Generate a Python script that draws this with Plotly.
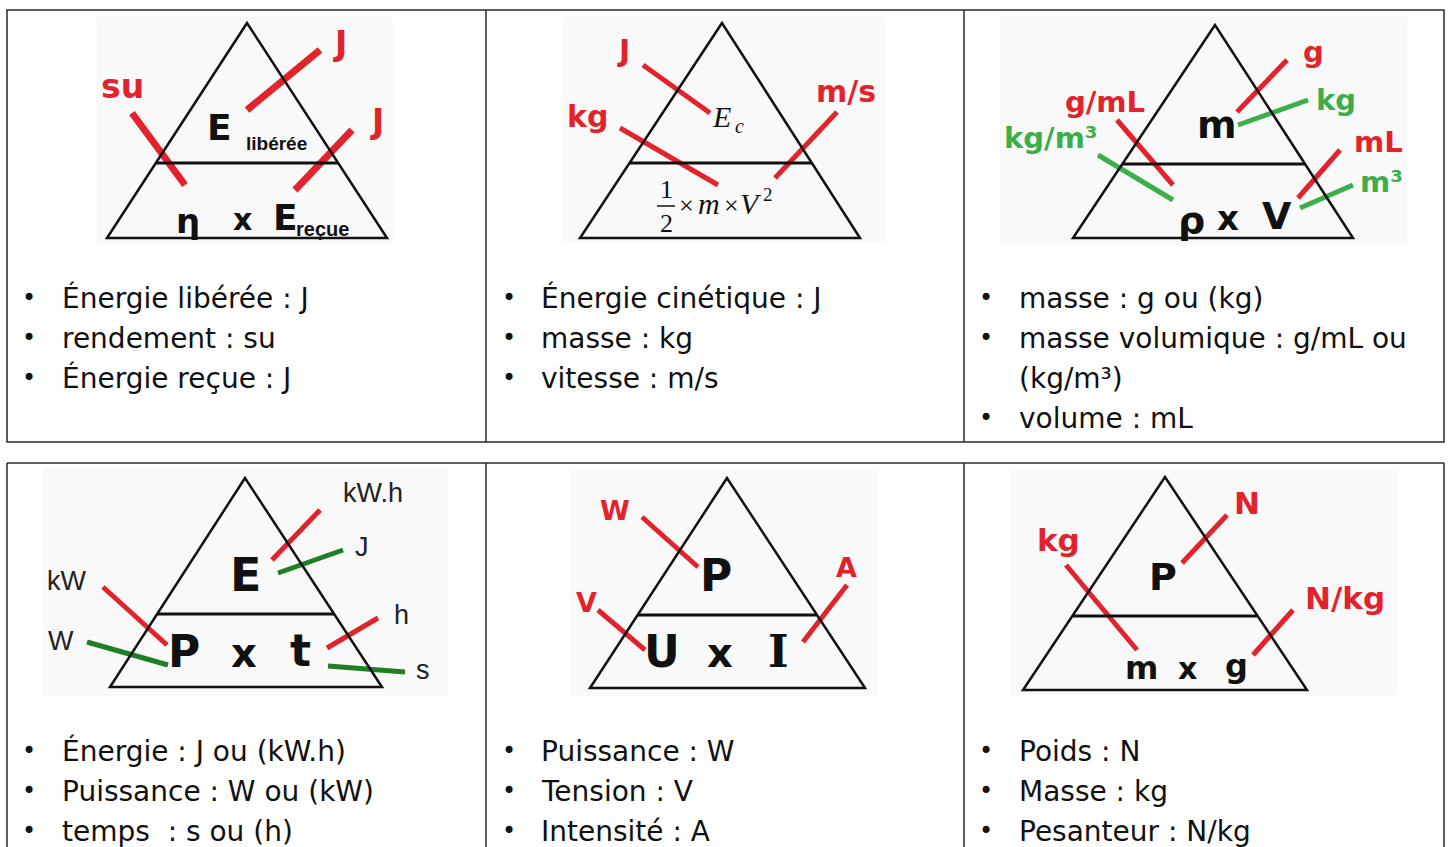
import plotly.graph_objects as go

W, H = 1451, 847
RED = "#e3232b"
GREEN = "#3cae4a"
DKGREEN = "#1f7f23"
BLACK = "#111111"

# ---------------- content ----------------
# bullet lists, one per cell (an item can wrap on a second line)
bullets_rendement = [["Énergie libérée : J"], ["rendement : su"], ["Énergie reçue : J"]]
bullets_cinetique = [["Énergie cinétique : J"], ["masse : kg"], ["vitesse : m/s"]]
bullets_masse_vol = [["masse : g ou (kg)"], ["masse volumique : g/mL ou", "(kg/m³)"], ["volume : mL"]]
bullets_energie = [["Énergie : J ou (kW.h)"], ["Puissance : W ou (kW)"], ["temps  : s ou (h)"]]
bullets_puissance = [["Puissance : W"], ["Tension : V"], ["Intensité : A"]]
bullets_poids = [["Poids : N"], ["Masse : kg"], ["Pesanteur : N/kg"]]

# unit labels attached to each triangle
units_rendement = ["su", "J", "J"]
units_cinetique = ["J", "kg", "m/s"]
units_masse_vol = ["g", "kg", "g/mL", "kg/m³", "mL", "m³"]
units_energie = ["kW.h", "J", "kW", "W", "h", "s"]
units_puissance = ["W", "V", "A"]
units_poids = ["N", "kg", "N/kg"]

colors_rendement = [RED, RED, RED]
colors_cinetique = [RED, RED, RED]
colors_masse_vol = [RED, GREEN, RED, GREEN, RED, GREEN]
colors_energie = [RED, DKGREEN, RED, DKGREEN, RED, DKGREEN]
colors_puissance = [RED, RED, RED]
colors_poids = [RED, RED, RED]

# ---------------- layout of the page (pixels) ----------------
cells = [
    dict(bullets=bullets_rendement, units=units_rendement, colors=colors_rendement,
         box=(97, 17, 393, 244), tri=(247, 23, 107, 387, 238, 163), lw=7,
         seg=[(132, 113, 185, 185), (247, 110, 320, 50), (295, 190, 352, 130)],
         lab=[(122, 86), (340, 43), (377, 121)], usize=33, ubold=True,
         bx=20, tx=60, ys=[298, 338, 378]),
    dict(bullets=bullets_cinetique, units=units_cinetique, colors=colors_cinetique,
         box=(563, 17, 885, 242), tri=(722, 23, 580, 860, 238, 163), lw=5,
         seg=[(643, 65, 710, 113), (620, 128, 718, 185), (775, 178, 837, 112)],
         lab=[(623, 50), (587, 116), (846, 91)], usize=30, ubold=True,
         bx=500, tx=539, ys=[298, 338, 378]),
    dict(bullets=bullets_masse_vol, units=units_masse_vol, colors=colors_masse_vol,
         box=(1000, 17, 1407, 245), tri=(1215, 25, 1073, 1353, 238, 164), lw=5,
         seg=[(1237, 112, 1287, 60), (1238, 125, 1308, 100), (1117, 120, 1173, 185),
              (1098, 155, 1173, 200), (1298, 198, 1340, 150), (1300, 208, 1353, 185)],
         lab=[(1313, 52), (1336, 100), (1105, 102), (1051, 138), (1378, 142), (1381, 182)],
         usize=29, ubold=True,
         bx=977, tx=1017, ys=[298, 338, 378, 418]),
    dict(bullets=bullets_energie, units=units_energie, colors=colors_energie,
         box=(43, 468, 448, 697), tri=(245, 478, 110, 382, 687, 614), lw=5,
         seg=[(272, 560, 320, 510), (278, 573, 343, 550), (103, 587, 167, 645),
              (87, 642, 168, 665), (327, 648, 378, 618), (328, 666, 405, 672)],
         lab=[(373, 493), (362, 547), (67, 581), (61, 641), (401, 615), (423, 670)],
         usize=27, ubold=False,
         bx=20, tx=60, ys=[751, 791, 831]),
    dict(bullets=bullets_puissance, units=units_puissance, colors=colors_puissance,
         box=(570, 470, 877, 697), tri=(727, 478, 590, 865, 688, 615), lw=5,
         seg=[(642, 517, 698, 567), (598, 610, 645, 650), (803, 642, 847, 585)],
         lab=[(615, 510), (586, 602), (846, 567)], usize=27, ubold=True,
         bx=500, tx=539, ys=[751, 791, 831]),
    dict(bullets=bullets_poids, units=units_poids, colors=colors_poids,
         box=(1010, 470, 1397, 695), tri=(1165, 477, 1023, 1307, 690, 616), lw=5,
         seg=[(1182, 563, 1227, 515), (1066, 565, 1137, 650), (1253, 655, 1293, 610)],
         lab=[(1247, 503), (1058, 540), (1345, 598)], usize=31, ubold=True,
         bx=977, tx=1017, ys=[751, 791, 831]),
]

fig = go.Figure()
fig.add_trace(go.Scatter(x=[0, W], y=[0, H], mode="markers",
                         marker=dict(opacity=0), hoverinfo="skip", showlegend=False))

shapes = []
ann = []


def text(x, y, s, size, color=BLACK, bold=False, family="DejaVu Sans", anchor="center", italic=False):
    ann.append(dict(x=x, y=y, text=s, showarrow=False, xanchor=anchor, yanchor="middle",
                    font=dict(size=size, color=color, family=family,
                              weight="bold" if bold else "normal",
                              style="italic" if italic else "normal")))


# table borders
BORDER = dict(color="#2a2a2a", width=1.5)
shapes.append(dict(type="rect", x0=7, y0=10, x1=1444, y1=442, line=BORDER))
for xv in [486, 964]:
    shapes.append(dict(type="line", x0=xv, y0=10, x1=xv, y1=442, line=BORDER))
shapes.append(dict(type="line", x0=7, y0=463, x1=1444, y1=463, line=BORDER))
for xv in [7, 486, 964, 1444]:
    shapes.append(dict(type="line", x0=xv, y0=463, x1=xv, y1=H + 20, line=BORDER))

for c in cells:
    bx0, by0, bx1, by1 = c["box"]
    shapes.append(dict(type="rect", x0=bx0, y0=by0, x1=bx1, y1=by1,
                       fillcolor="#f9f9f9", line=dict(width=0), layer="below"))
    ax, ay, lx, rx, base, mid = c["tri"]
    shapes.append(dict(type="path", path=f"M {ax},{ay} L {lx},{base} L {rx},{base} Z",
                       line=dict(color=BLACK, width=2.5)))
    f = (mid - ay) / (base - ay)
    shapes.append(dict(type="line", x0=ax + (lx - ax) * f, y0=mid, x1=ax + (rx - ax) * f, y1=mid,
                       line=dict(color=BLACK, width=3)))
    for (x0, y0, x1, y1), col in zip(c["seg"], c["colors"]):
        fig.add_trace(go.Scatter(x=[x0, x1], y=[y0, y1], mode="lines",
                                 line=dict(color=col, width=c["lw"]),
                                 hoverinfo="skip", showlegend=False))
    for (x, y), u, col in zip(c["lab"], c["units"], c["colors"]):
        if c["ubold"]:
            text(x, y, u, c["usize"], col, bold=True)
        else:
            text(x, y, u, c["usize"], "#222222", family="Liberation Sans")
    k = 0
    for item in c["bullets"]:
        text(c["bx"], c["ys"][k], "•", 24, anchor="left")
        for line in item:
            text(c["tx"], c["ys"][k], line, 28, anchor="left")
            k += 1

# formulas inside the triangles
NARROW = "Liberation Sans Narrow, Liberation Sans"
text(219, 127, "E", 36, bold=True)
text(276, 143, "libérée", 19, bold=True, family=NARROW)
text(188, 221, "η", 34, bold=True)
text(242, 219, "x", 30, bold=True)
text(285, 217, "E", 36, bold=True)
text(322, 229, "reçue", 20, bold=True, family=NARROW)

SERIF = "Liberation Serif"
text(721, 116, "E", 30, family=SERIF, italic=True)
text(739, 126, "c", 20, family=SERIF, italic=True)
text(666, 189, "1", 26, family=SERIF)
shapes.append(dict(type="line", x0=657, y0=206, x1=675, y1=206, line=dict(color=BLACK, width=1.5)))
text(666, 223, "2", 26, family=SERIF)
text(686, 205, "×", 26, family=SERIF)
text(709, 203, "m", 30, family=SERIF, italic=True)
text(731, 205, "×", 26, family=SERIF)
text(751, 203, "V", 30, family=SERIF, italic=True)
text(768, 194, "2", 19, family=SERIF)

text(1217, 125, "m", 38, bold=True)
text(1191, 220, "ρ", 38, bold=True)
text(1228, 218, "x", 34, bold=True)
text(1277, 216, "V", 38, bold=True)

text(245, 575, "E", 46, bold=True)
text(184, 651, "P", 44, bold=True)
text(244, 653, "x", 40, bold=True)
text(300, 650, "t", 44, bold=True)

text(716, 575, "P", 44, bold=True)
text(662, 651, "U", 44, bold=True)
text(720, 653, "x", 40, bold=True)
text(778, 651, "I", 44, bold=True, family="DejaVu Serif")

text(1163, 577, "P", 38, bold=True)
text(1141, 668, "m", 32, bold=True)
text(1187, 668, "x", 30, bold=True)
text(1236, 666, "g", 32, bold=True)

fig.update_layout(
    width=W, height=H,
    margin=dict(l=0, r=0, t=0, b=0),
    paper_bgcolor="white", plot_bgcolor="white",
    xaxis=dict(range=[0, W], visible=False, fixedrange=True),
    yaxis=dict(range=[H, 0], visible=False, fixedrange=True),
    shapes=shapes, annotations=ann, showlegend=False,
)

fig.write_html("out.html", config=dict(displayModeBar=False),
               post_script="document.body.style.margin='0';document.body.style.overflow='hidden';")
